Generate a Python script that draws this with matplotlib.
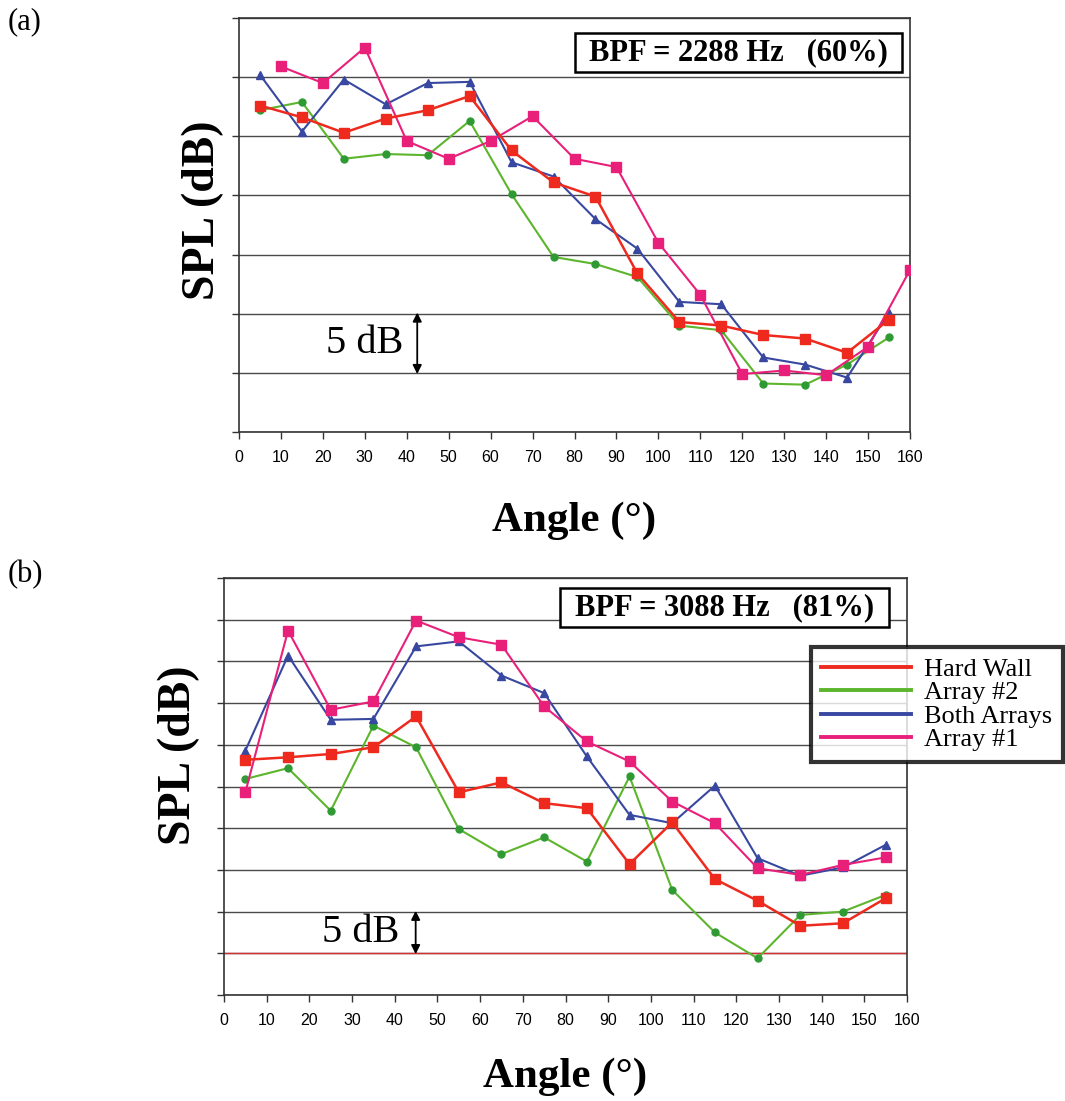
"""Far-field SPL directivity at two blade-passing frequencies, four liner configurations."""

import numpy as np
import matplotlib
matplotlib.use("Agg")
import matplotlib.pyplot as plt
from matplotlib.lines import Line2D
from matplotlib.patches import Rectangle

# Angles (deg)
ANG_ODD = [5, 15, 25, 35, 45, 55, 65, 75, 85, 95, 105, 115, 125, 135, 145, 155]
ANG_EVEN = [10, 20, 30, 40, 50, 60, 70, 80, 90, 100, 110, 120, 130, 140, 150, 160]

# Panel (a): BPF = 2288 Hz, relative SPL (dB)
a_hard_wall = [27.6, 26.6, 25.3, 26.5, 27.2, 28.4, 23.8, 21.1, 19.9, 13.4, 9.3, 9.0, 8.2, 7.9, 6.7, 9.5]
a_array2 = [27.2, 27.9, 23.1, 23.5, 23.4, 26.3, 20.1, 14.8, 14.2, 13.1, 9.0, 8.6, 4.1, 4.0, 5.7, 8.0]
a_both = [30.2, 25.4, 29.8, 27.7, 29.5, 29.6, 22.8, 21.6, 18.0, 15.5, 11.0, 10.8, 6.3, 5.7, 4.6, 10.1]
a_array1 = [30.9, 29.5, 32.5, 24.6, 23.1, 24.6, 26.7, 23.1, 22.4, 16.0, 11.6, 4.9, 5.2, 4.8, 7.2, 13.7]

# Panel (b): BPF = 3088 Hz, relative SPL (dB)
b_hard_wall = [28.2, 28.5, 28.9, 29.7, 33.4, 24.3, 25.5, 23.0, 22.4, 15.7, 20.7, 13.9, 11.3, 8.3, 8.6, 11.6]
b_array2 = [25.9, 27.2, 22.1, 32.3, 29.7, 19.9, 16.9, 18.9, 16.0, 26.2, 12.6, 7.5, 4.4, 9.6, 10.0, 12.0]
b_both = [29.3, 40.7, 33.0, 33.1, 41.8, 42.4, 38.3, 36.2, 28.6, 21.6, 20.6, 25.1, 16.4, 14.3, 15.3, 18.0]
b_array1 = [24.3, 43.7, 34.2, 35.2, 44.9, 42.9, 42.0, 34.6, 30.4, 28.0, 23.2, 20.6, 15.2, 14.4, 15.6, 16.5]

SERIES_LABELS = ["Hard Wall", "Array #2", "Both Arrays", "Array #1"]

SERIF = "Liberation Serif"
SANS = "Liberation Sans"

RED = "#ee2a1e"
GREEN = "#5cb52c"
GREEN_MK = "#2f9a34"
BLUE = "#3848a0"
MAGENTA = "#e8207a"
COLORS = [RED, GREEN, BLUE, MAGENTA]

W, H = 1065, 1101
fig = plt.figure(figsize=(W / 100, H / 100), dpi=100)


def px_axes(left, top, right, bottom):
    return fig.add_axes([left / W, 1 - bottom / H, (right - left) / W, (bottom - top) / H])


def style_axes(ax, ymax, ylabel_pos, xlabel_pad):
    ax.set_xlim(0, 160)
    ax.set_ylim(0, ymax)
    ax.set_xticks(np.arange(0, 161, 10))
    ax.set_yticks(np.arange(0, ymax + 1, 5))
    ax.set_yticklabels([])
    ax.grid(axis="y", color="#4a4a4a", linewidth=1.0)
    ax.set_axisbelow(True)
    for s in ax.spines.values():
        s.set_color("#333333")
        s.set_linewidth(1.2)
    ax.tick_params(axis="both", direction="out", length=5, color="#333333", width=1.0)
    ax.tick_params(axis="x", labelsize=11.5, pad=8)
    for lbl in ax.get_xticklabels():
        lbl.set_fontfamily(SANS)
    ax.set_ylabel("SPL (dB)", fontfamily=SERIF, fontweight="bold", fontsize=33)
    ax.yaxis.set_label_coords(*ylabel_pos)
    ax.set_xlabel("Angle (°)", fontfamily=SERIF, fontweight="bold", fontsize=31, labelpad=xlabel_pad)


def draw_series(ax, x1, hw, a2, both, x2, a1):
    ax.plot(ANG_ODD, hw, color=RED, lw=1.8, marker="s", ms=6.5, mfc=RED, mec=RED, zorder=4)
    ax.plot(ANG_ODD, a2, color=GREEN, lw=1.5, marker="o", ms=5, mfc=GREEN_MK, mec=GREEN_MK, zorder=3)
    ax.plot(x1, both, color=BLUE, lw=1.5, marker="^", ms=6, mfc=BLUE, mec=BLUE, zorder=3)
    ax.plot(x2, a1, color=MAGENTA, lw=1.5, marker="s", ms=6.5, mfc=MAGENTA, mec=MAGENTA, zorder=3)


def bpf_box(ax, text, x0, y0, x1, y1):
    # box drawn in axes fractions so it can be wider than the text padding allows
    ax.add_patch(Rectangle((x0, y0), x1 - x0, y1 - y0, transform=ax.transAxes,
                           fc="white", ec="black", lw=1.8, zorder=5))
    ax.text((x0 + x1) / 2, (y0 + y1) / 2, text, transform=ax.transAxes,
            ha="center", va="center", fontfamily=SERIF, fontweight="bold",
            fontsize=22, zorder=6)


def five_db_marker(ax, x_arrow, x_text):
    ax.annotate("", xy=(x_arrow, 4.9), xytext=(x_arrow, 10.1),
                arrowprops=dict(arrowstyle="<|-|>", color="black", lw=1.3,
                                mutation_scale=13, shrinkA=0, shrinkB=0))
    ax.text(x_text, 7.5, "5 dB", ha="right", va="center", fontfamily=SERIF, fontsize=29)


# --- Panel (a) ---
ax1 = px_axes(239, 18, 910, 432)
style_axes(ax1, 35, (-0.022, 0.536), 26)
draw_series(ax1, ANG_ODD, a_hard_wall, a_array2, a_both, ANG_EVEN, a_array1)
bpf_box(ax1, "BPF = 2288 Hz   (60%)", 0.500, 0.870, 0.988, 0.963)
five_db_marker(ax1, 42.5, 39.1)

# --- Panel (b) ---
ax2 = px_axes(224, 578, 907, 995)
style_axes(ax2, 50, (-0.035, 0.575), 21)
ax2.axhline(5, color="#d23030", lw=1.0, zorder=1)
draw_series(ax2, ANG_ODD, b_hard_wall, b_array2, b_both, ANG_ODD, b_array1)
bpf_box(ax2, "BPF = 3088 Hz   (81%)", 0.492, 0.883, 0.973, 0.976)
five_db_marker(ax2, 44.9, 41.2)

handles = [Line2D([], [], color=c, lw=2.8) for c in COLORS]
leg = fig.legend(handles, SERIES_LABELS, loc="upper right",
                 bbox_to_anchor=(1063 / W, 1 - 647 / H),
                 prop={"family": SERIF, "size": 19}, frameon=True, fancybox=False,
                 handlelength=3.4, handletextpad=0.5, labelspacing=0.0, borderpad=0.4,
                 borderaxespad=0)
leg.get_frame().set_edgecolor("black")
leg.get_frame().set_linewidth(3)

fig.text(8 / W, 1 - 22 / H, "(a)", fontfamily=SERIF, fontsize=22, ha="left", va="center")
fig.text(8 / W, 1 - 575 / H, "(b)", fontfamily=SERIF, fontsize=22, ha="left", va="center")

fig.savefig("out.png", dpi=100)
